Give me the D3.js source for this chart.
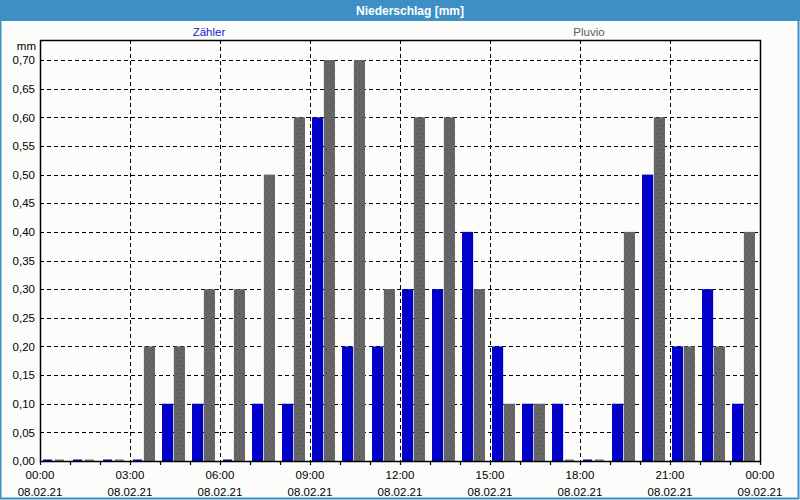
<!DOCTYPE html>
<html>
<head>
<meta charset="utf-8">
<script src="https://cdn.jsdelivr.net/npm/d3@7"></script>
<style>
  body { margin: 0; background: #fcfdfa; }
  text { font-family: "Liberation Sans", Arial, sans-serif; }
</style>
</head>
<body>
<div id="chart"></div>
<script>
// Hourly precipitation, 08.02.21
var hours = [0, 1, 2, 3, 4, 5, 6, 7, 8, 9, 10, 11, 12, 13, 14, 15, 16, 17, 18, 19, 20, 21, 22, 23];
var zaehler = [0, 0, 0, 0, 0.1, 0.1, 0, 0.1, 0.1, 0.6, 0.2, 0.2, 0.3, 0.3, 0.4, 0.2, 0.1, 0.1, 0, 0.1, 0.5, 0.2, 0.3, 0.1];
var pluvio = [0, 0, 0, 0.2, 0.2, 0.3, 0.3, 0.5, 0.6, 0.7, 0.7, 0.3, 0.6, 0.6, 0.3, 0.1, 0.1, 0, 0, 0.4, 0.6, 0.2, 0.2, 0.4];
var seriesNames = ["Zähler", "Pluvio"];
var yTicks = [0, 0.05, 0.1, 0.15, 0.2, 0.25, 0.3, 0.35, 0.4, 0.45, 0.5, 0.55, 0.6, 0.65, 0.7];
var xTickTimes = ["00:00", "03:00", "06:00", "09:00", "12:00", "15:00", "18:00", "21:00", "00:00"];
var xTickDates = ["08.02.21", "08.02.21", "08.02.21", "08.02.21", "08.02.21", "08.02.21", "08.02.21", "08.02.21", "09.02.21"];

var svgWidth = 800;
var svgHeight = 500;
var margin = { top: 40, right: 40, bottom: 39, left: 40 };
var width = svgWidth - margin.left - margin.right;
var height = svgHeight - margin.top - margin.bottom;

var svg = d3.select("#chart")
  .append("svg")
  .attr("width", svgWidth)
  .attr("height", svgHeight);

// dotted texture for the Pluvio bars
var pattern = svg.append("defs").append("pattern")
  .attr("id", "dots")
  .attr("width", 6)
  .attr("height", 8)
  .attr("patternUnits", "userSpaceOnUse");
pattern.append("rect").attr("width", 6).attr("height", 8).attr("fill", "#666666");
pattern.append("rect").attr("x", 1).attr("y", 1).attr("width", 1).attr("height", 1).attr("fill", "#3a3f70");
pattern.append("rect").attr("x", 4).attr("y", 5).attr("width", 1).attr("height", 1).attr("fill", "#3a3f70");

// window frame and title bar
svg.append("rect")
  .attr("x", 0).attr("y", 0)
  .attr("width", svgWidth).attr("height", svgHeight)
  .attr("fill", "#fcfdfa");
svg.append("rect")
  .attr("x", 0).attr("y", 0)
  .attr("width", svgWidth).attr("height", 21)
  .attr("fill", "#3d8fc6");
svg.append("rect")
  .attr("x", 0.5).attr("y", 0.5)
  .attr("width", svgWidth - 2).attr("height", svgHeight - 2)
  .attr("fill", "none")
  .attr("stroke", "#3d8fc6")
  .attr("stroke-width", 2);
svg.append("text")
  .attr("x", 410)
  .attr("y", 15)
  .attr("text-anchor", "middle")
  .attr("fill", "#ffffff")
  .attr("font-weight", "bold")
  .attr("font-size", "12px")
  .text("Niederschlag [mm]");

// legend labels above the plot
var legendColors = ["#1a1acc", "#5a5a62"];
var legendX = [209, 589];
svg.selectAll(".legend")
  .data(seriesNames)
  .enter()
  .append("text")
  .attr("class", "legend")
  .attr("x", (d, i) => legendX[i])
  .attr("y", 36)
  .attr("text-anchor", "middle")
  .attr("font-size", "11.5px")
  .attr("fill", (d, i) => legendColors[i])
  .text(d => d);

var chartGroup = svg.append("g")
  .attr("transform", `translate(${margin.left}, ${margin.top})`);

var parseHour = h => new Date(2021, 1, 8, h);
var xScale = d3.scaleTime()
  .domain([new Date(2021, 1, 8, 0), new Date(2021, 1, 9, 0)])
  .range([0, width]);

var yScale = d3.scaleLinear()
  .domain([0, 0.735])
  .range([height, 0]);

var hourWidth = xScale(parseHour(1)) - xScale(parseHour(0));
var subScale = d3.scaleBand()
  .domain(seriesNames)
  .range([2, hourWidth - 5])
  .paddingInner(0.06);

// grid lines
chartGroup.append("g")
  .selectAll("line")
  .data(yTicks.slice(1))
  .enter()
  .append("line")
  .attr("x1", 0).attr("x2", width)
  .attr("y1", d => Math.round(yScale(d)) + 0.5)
  .attr("y2", d => Math.round(yScale(d)) + 0.5)
  .attr("stroke", "#000")
  .attr("stroke-dasharray", "4,3");

var gridTimes = d3.timeHour.every(3).range(parseHour(3), parseHour(24));
chartGroup.append("g")
  .selectAll("line")
  .data(gridTimes)
  .enter()
  .append("line")
  .attr("x1", d => Math.round(xScale(d)) + 0.5)
  .attr("x2", d => Math.round(xScale(d)) + 0.5)
  .attr("y1", 0).attr("y2", height)
  .attr("stroke", "#000")
  .attr("stroke-dasharray", "4,3");

// bars
var barData = [];
hours.forEach(function(h, i) {
  barData.push({ hour: h, series: seriesNames[0], value: zaehler[i] });
  barData.push({ hour: h, series: seriesNames[1], value: pluvio[i] });
});

chartGroup.append("g")
  .selectAll("rect")
  .data(barData)
  .enter()
  .append("rect")
  .attr("x", d => xScale(parseHour(d.hour)) + subScale(d.series) + (d.value > 0 ? 0 : 1))
  .attr("width", d => subScale.bandwidth() - (d.value > 0 ? 0 : 2))
  .attr("y", d => d.value > 0 ? yScale(d.value) : height - 1.5)
  .attr("height", d => d.value > 0 ? height - yScale(d.value) : 1.5)
  .attr("fill", d => d.series === seriesNames[0] ? "#0000c8" : (d.value > 0 ? "url(#dots)" : "#777777"));

// frame
chartGroup.append("rect")
  .attr("x", 0.5).attr("y", 0.5)
  .attr("width", width).attr("height", height)
  .attr("fill", "none")
  .attr("stroke", "#000")
  .attr("stroke-width", 1.5);

// y axis
var leftAxis = d3.axisLeft(yScale)
  .tickValues(yTicks)
  .tickSize(0)
  .tickPadding(5)
  .tickFormat(d => d3.format(".2f")(d).replace(".", ","));
var yAxis = chartGroup.append("g").call(leftAxis);
yAxis.select(".domain").remove();
yAxis.selectAll("text")
  .attr("font-family", "Liberation Sans, Arial, sans-serif")
  .attr("font-size", "11.5px")
  .attr("fill", "#000");

chartGroup.append("text")
  .attr("x", -4)
  .attr("y", 10)
  .attr("text-anchor", "end")
  .attr("font-size", "11.5px")
  .text("mm");

// x axis: hourly ticks
var bottomAxis = d3.axisBottom(xScale)
  .ticks(d3.timeHour.every(1))
  .tickSize(4)
  .tickFormat("");
var xAxis = chartGroup.append("g")
  .attr("transform", `translate(0, ${height})`)
  .call(bottomAxis);
xAxis.select(".domain").remove();
xAxis.selectAll("line").attr("stroke", "#000").attr("stroke-width", 1.2);

// x labels every 3 hours
var labelTimes = d3.timeHour.every(3).range(parseHour(0), parseHour(25));
var labelGroup = chartGroup.append("g")
  .attr("transform", `translate(0, ${height})`);
labelGroup.selectAll(".tlabel")
  .data(labelTimes)
  .enter()
  .append("text")
  .attr("class", "tlabel")
  .attr("x", d => xScale(d))
  .attr("y", 18)
  .attr("text-anchor", "middle")
  .attr("font-size", "11.5px")
  .text((d, i) => xTickTimes[i]);
labelGroup.selectAll(".dlabel")
  .data(labelTimes)
  .enter()
  .append("text")
  .attr("class", "dlabel")
  .attr("x", d => xScale(d))
  .attr("y", 35)
  .attr("text-anchor", "middle")
  .attr("font-size", "11.5px")
  .text((d, i) => xTickDates[i]);
</script>
</body>
</html>
